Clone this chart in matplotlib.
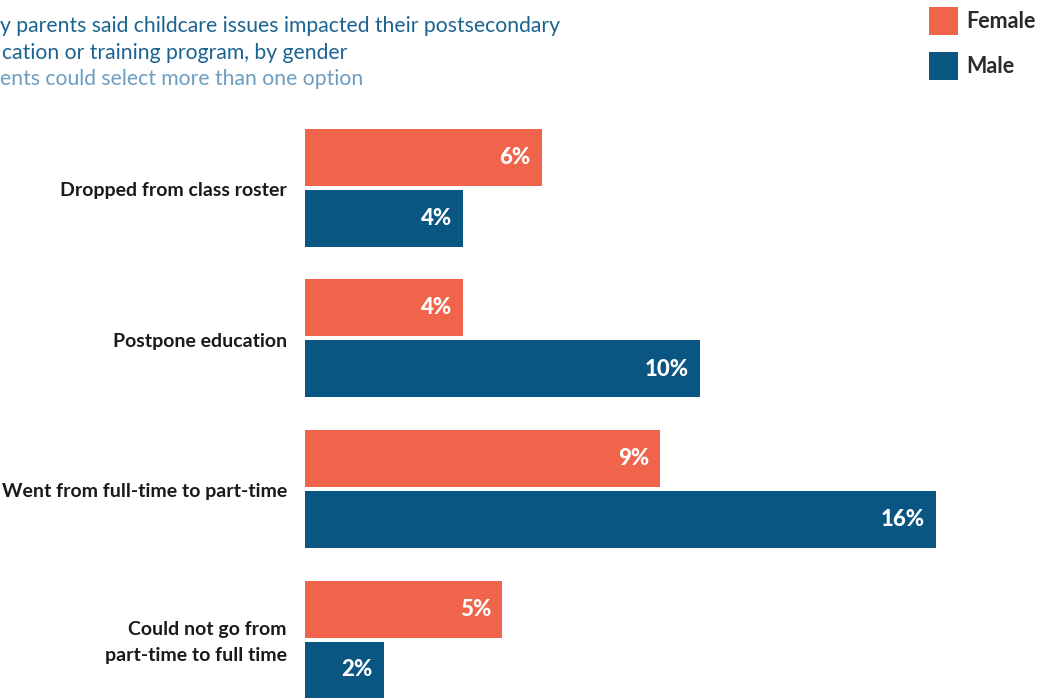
import matplotlib.pyplot as plt

# data
categories = ["Dropped from class roster", "Postpone education",
              "Went from full-time to part-time",
              "Could not go from\npart-time to full time"]
female = [6, 4, 9, 5]
male = [4, 10, 16, 2]

female_color = "#F0644B"
male_color = "#0A5682"

plt.rcParams['font.family'] = ['Lato', 'DejaVu Sans']

W, H = 1038, 698
fig = plt.figure(figsize=(W / 100, H / 100), dpi=100)
# axes spans bars area: x from 305px, 39.45 px per percent
ax = fig.add_axes([305 / W, 0, 730 / W, 1])
ax.set_xlim(0, 730 / 39.45)
ax.set_ylim((698 - 188) / 150.5, -188 / 150.5)
ax.axis('off')

h = 57 / 150.5
off = 30.5 / 150.5
ys = list(range(len(categories)))
fb = ax.barh([y - off for y in ys], female, height=h, color=female_color, label="Female")
mb = ax.barh([y + off for y in ys], male, height=h, color=male_color, label="Male")

pad = 11 / 39.45
for y, v in zip(ys, female):
    ax.text(v - pad, y - off, f"{v}%", color="white", fontsize=16, fontweight="black",
            ha="right", va="center")
for y, v in zip(ys, male):
    ax.text(v - pad, y + off, f"{v}%", color="white", fontsize=16, fontweight="black",
            ha="right", va="center")

for y, c in zip(ys, categories):
    ax.text(-18 / 39.45, y + 3 / 150.5, c, ha="right", va="center", fontsize=14,
            fontweight="bold", color="#1a1a1a", linespacing=1.65)

# title block (cropped on the left in the reference)
fig.text(0 / W, 1 - 26 / H, "y parents said childcare issues impacted their postsecondary",
         fontsize=15.2, color="#1b6392", va="center", ha="left")
fig.text(2 / W, 1 - 53 / H, "cation or training program, by gender",
         fontsize=15.2, color="#1b6392", va="center", ha="left")
fig.text(0 / W, 1 - 79 / H, "ents could select more than one option",
         fontsize=15.2, color="#6d9dbf", va="center", ha="left")

leg = fig.legend(handles=[fb, mb], labels=["Female", "Male"], loc="upper left",
                 bbox_to_anchor=(929 / W, 1 - 7 / H), frameon=False, fontsize=15.5,
                 borderpad=0, borderaxespad=0,
                 handlelength=1.35, handleheight=1.65, handletextpad=0.37,
                 labelspacing=0.75)
for t in leg.get_texts():
    t.set_fontweight("bold")
    t.set_color("#2a2a2a")

fig.savefig("out.png", dpi=100)
